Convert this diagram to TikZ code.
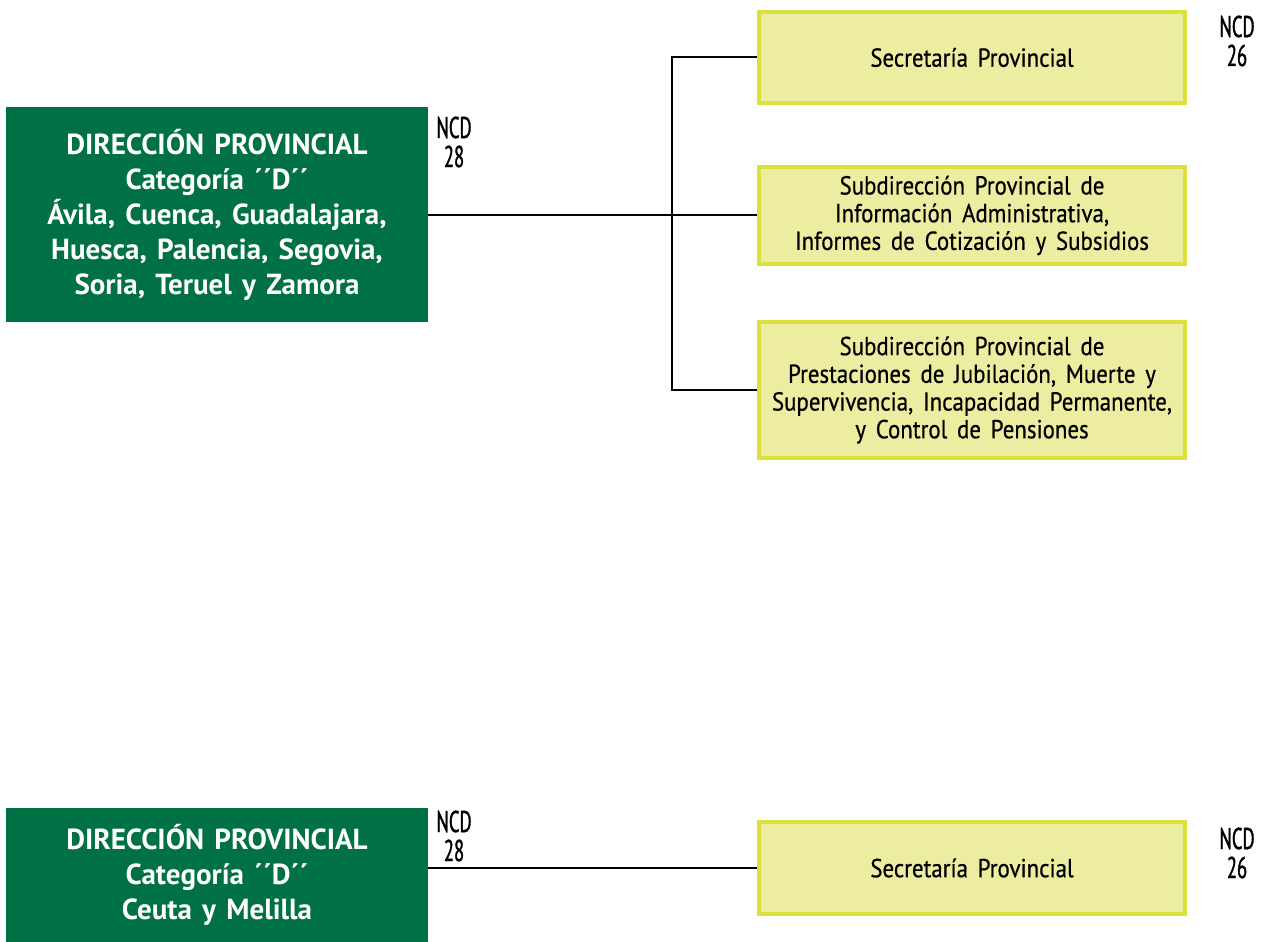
\documentclass[tikz,border=0pt]{standalone}
\usepackage{fontspec}
\setmainfont[FakeStretch=0.88,WordSpace=1.6,FakeBold=0.6]{PT Sans}
\newfontfamily\dirfont[WordSpace=1.4]{PT Sans}
\newfontfamily\ncdfont[FakeStretch=0.62,FakeBold=1.2]{PT Sans}
\definecolor{dirgreen}{RGB}{0,112,69}
\definecolor{secfill}{RGB}{237,237,161}
\definecolor{secborder}{RGB}{220,224,60}
\begin{document}
\begin{tikzpicture}[x=1pt,y=-1pt,
  dirbox/.style={draw=none,fill=dirgreen,text=white,minimum width=422pt,align=center,
    font=\dirfont\fontsize{29}{35}\selectfont\bfseries,inner sep=0pt},
  secbox/.style={draw=secborder,line width=4pt,fill=secfill,minimum width=426pt,align=center,
    font=\fontsize{26}{27.7}\selectfont,inner sep=0pt},
  ncd/.style={align=center,font=\ncdfont\fontsize{30}{29}\selectfont,inner sep=0pt},
  conn/.style={line width=2pt,black}]
\useasboundingbox (0,0) rectangle (1269,942);
\fill[white] (0,0) rectangle (1269,942);

\node[dirbox,minimum height=215pt] (g1) at (217,214.5)
  {DIRECCIÓN PROVINCIAL\\Categoría ´´D´´\\Ávila, Cuenca, Guadalajara,\\Huesca, Palencia, Segovia,\\Soria, Teruel y Zamora};
\node[ncd] (n1) at (454,142) {NCD\\28};

\node[secbox,minimum height=91pt] (y1) at (972,57.5) {Secretaría Provincial};
\node[ncd] (n2) at (1237,41) {NCD\\26};
\node[secbox,minimum height=97pt] (y2) at (972,215.5)
  {Subdirección Provincial de\\Información Administrativa,\\Informes de Cotización y Subsidios};
\node[secbox,minimum height=136pt] (y3) at (972,390)
  {Subdirección Provincial de\\Prestaciones de Jubilación, Muerte y\\Supervivencia, Incapacidad Permanente,\\y Control de Pensiones};

\coordinate (bus) at (672,214.5);
\draw[conn] (g1.east) -- (g1.east -| y2.west);
\draw[conn] (y1.west) -- (y1.west -| bus) -- (y3.west -| bus) -- (y3.west);

\node[dirbox,minimum height=134pt] (g2) at (217,875)
  {DIRECCIÓN PROVINCIAL\\Categoría ´´D´´\\Ceuta y Melilla};
\node[ncd] (n3) at (454,836) {NCD\\28};
\node[secbox,minimum height=92pt] (y4) at (972,868) {Secretaría Provincial};
\node[ncd] (n4) at (1237,853) {NCD\\26};
\draw[conn] (g2.east |- y4.west) -- (y4.west);
\end{tikzpicture}
\end{document}
